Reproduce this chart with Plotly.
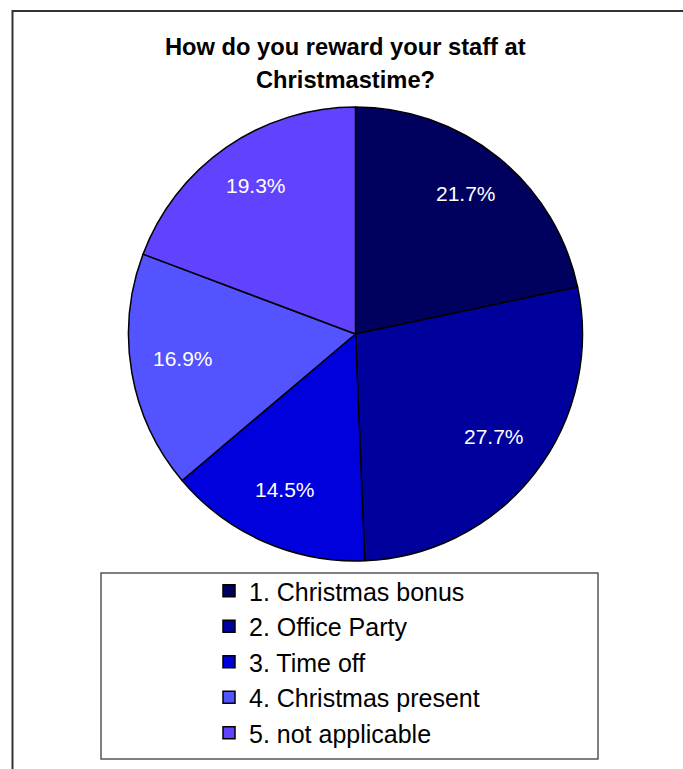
import math
import plotly.graph_objects as go

# Survey answers and their shares (%)
labels = ["1. Christmas bonus", "2. Office Party", "3. Time off",
          "4. Christmas present", "5. not applicable"]
shares = [21.7, 27.7, 14.5, 16.9, 19.3]
colors = ["#00005E", "#00009C", "#0000DC", "#5353FF", "#6142FF"]
title_lines = ["How do you reward your staff at", "Christmastime?"]

W, H = 683, 769
FONT = "Arial, Liberation Sans, sans-serif"

# pie placement in pixels
pie_left, pie_right, pie_top, pie_bottom = 128, 583, 107, 561
cx = (pie_left + pie_right) / 2
cy = (pie_top + pie_bottom) / 2
R = min(pie_right - pie_left, pie_bottom - pie_top) / 2

fig = go.Figure(go.Pie(
    labels=labels,
    values=shares,
    sort=False,
    direction="clockwise",
    rotation=0,
    marker=dict(colors=colors, line=dict(color="#000000", width=1.5)),
    textinfo="none",
    hoverinfo="label+percent",
    domain=dict(x=[pie_left / W, pie_right / W],
                y=[1 - pie_bottom / H, 1 - pie_top / H]),
))

annotations = []
# percentage labels placed inside each slice along its mid angle
total = sum(shares)
cum = 0.0
for v in shares:
    mid = (cum + v / 2) / total * 2 * math.pi
    cum += v
    px = cx + 0.77 * R * math.sin(mid)
    py = cy - 0.77 * R * math.cos(mid) - 5
    annotations.append(dict(
        x=px / W, y=1 - py / H, xref="paper", yref="paper",
        text=f"{v:.1f}%", showarrow=False,
        xanchor="center", yanchor="middle",
        font=dict(family=FONT, size=21, color="#FFFFFF"),
    ))

# two-line bold title
for line, ty in zip(title_lines, [47, 80]):
    annotations.append(dict(
        x=345 / W, y=1 - ty / H, xref="paper", yref="paper",
        text=f"<b>{line}</b>", showarrow=False,
        xanchor="center", yanchor="middle",
        font=dict(family=FONT, size=23.7, color="#000000"),
    ))

shapes = [
    # chart frame
    dict(type="rect", xref="paper", yref="paper",
         x0=12.5 / W, x1=1.02, y0=-0.02, y1=1 - 11 / H,
         line=dict(color="#333333", width=2)),
    # legend frame
    dict(type="rect", xref="paper", yref="paper",
         x0=101 / W, x1=598 / W, y0=1 - 759 / H, y1=1 - 573 / H,
         line=dict(color="#555555", width=1.5)),
]

fig.update_layout(
    width=W, height=H,
    margin=dict(l=0, r=0, t=0, b=0),
    paper_bgcolor="#FFFFFF",
    plot_bgcolor="#FFFFFF",
    showlegend=True,
    legend=dict(
        x=209 / W, y=1 - 568 / H, xanchor="left", yanchor="top",
        font=dict(family=FONT, size=25, color="#000000"),
        bgcolor="rgba(0,0,0,0)", borderwidth=0,
    ),
    annotations=annotations,
    shapes=shapes,
)

fig.write_html("out.html")
